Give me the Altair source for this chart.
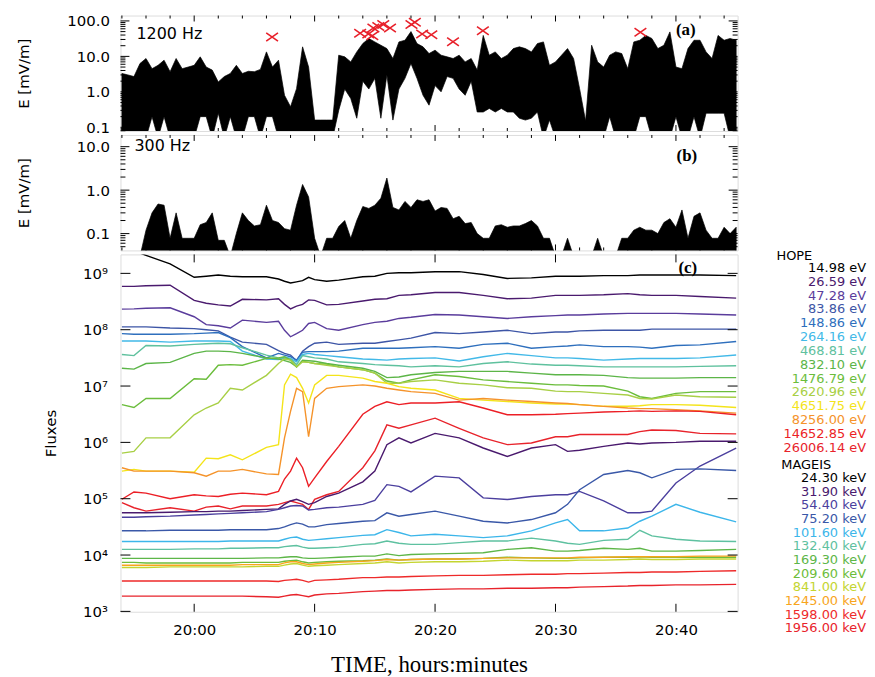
import altair as alt
import pandas as pd

# ---------------- Panels (a) and (b): wave electric field, envelope every 0.5 min ----------------
# time in minutes after 20:00
T_E = [round(-6 + 0.5 * i, 1) for i in range(103)]

E1200_HI = [
    3.3, 3.0, 2.7, 6.3, 8.7, 4.5, 5.6, 7.8, 3.7, 8.7,
    4.5, 5.0, 5.6, 9.7, 5.0, 4.1, 1.9, 2.7, 3.3, 5.6,
    3.3, 3.8, 3.7, 4.3, 13.4, 5.0, 7.8, 0.8, 0.38, 1.23,
    18.6, 5.0, 0.16, 0.16, 0.16, 0.16, 10.8, 9.7, 7.0, 13.4,
    23, 32, 25.6, 20.6, 16.6, 8.7, 25.6, 28.5, 50, 23,
    18.6, 12, 15, 10.8, 9.7, 8.7, 10.8, 7.0, 8.7, 4.1,
    39, 10.8, 13.4, 8.7, 10.8, 16.6, 18.6, 16.6, 13.4, 23,
    25.6, 5.6, 7.0, 10.8, 16.6, 8.7, 1.23, 0.15, 20.6, 7.0,
    5.0, 10.8, 13.4, 12, 4.5, 25.6, 28.5, 39, 32, 16.6,
    20.6, 49, 5.0, 4.5, 16.6, 28.5, 28.5, 13.4, 8.7, 39,
    28.5, 32, 28.5,
]
E1200_LO = [
    0.05, 0.05, 0.05, 0.05, 0.05, 0.2, 0.05, 0.2, 0.05, 0.05,
    0.05, 0.05, 0.05, 0.2, 0.2, 0.05, 0.25, 0.05, 0.2, 0.05,
    0.05, 0.2, 0.2, 0.05, 0.2, 0.2, 0.05, 0.05, 0.05, 0.05,
    0.05, 0.05, 0.05, 0.05, 0.05, 0.05, 0.3, 1.2, 0.65, 0.18,
    2.0, 1.2, 2.4, 0.18, 3.0, 0.16, 1.2, 2.4, 6.3, 2.4,
    0.8, 0.42, 1.5, 1.0, 2.7, 2.4, 1.2, 0.8, 2.0, 0.27,
    0.27, 0.34, 0.27, 0.34, 0.27, 0.27, 0.18, 0.16, 0.18, 0.27,
    0.05, 0.16, 0.05, 0.05, 0.05, 0.05, 0.05, 0.05, 0.05, 0.05,
    0.05, 0.2, 0.05, 0.05, 0.05, 0.05, 0.2, 0.2, 0.05, 0.05,
    0.05, 0.05, 0.2, 0.05, 0.05, 0.2, 0.05, 0.25, 0.25, 0.25,
    0.25, 0.05, 0.05,
]
E300_HI = [
    0.03, 0.03, 0.03, 0.03, 0.12, 0.3, 0.48, 0.45, 0.078, 0.3,
    0.078, 0.078, 0.078, 0.16, 0.18, 0.3, 0.07, 0.07, 0.03, 0.1,
    0.3, 0.2, 0.15, 0.16, 0.45, 0.2, 0.18, 0.13, 0.12, 0.45,
    1.35, 0.7, 0.078, 0.03, 0.078, 0.078, 0.145, 0.2, 0.078, 0.2,
    0.42, 0.38, 0.45, 0.65, 1.9, 0.4, 0.35, 0.55, 0.4, 0.6,
    0.55, 0.6, 0.33, 0.4, 0.38, 0.22, 0.25, 0.17, 0.18, 0.1,
    0.078, 0.078, 0.15, 0.16, 0.14, 0.15, 0.15, 0.17, 0.2, 0.15,
    0.078, 0.078, 0.03, 0.03, 0.078, 0.03, 0.03, 0.03, 0.03, 0.078,
    0.03, 0.03, 0.03, 0.078, 0.078, 0.12, 0.14, 0.12, 0.12, 0.1,
    0.18, 0.22, 0.14, 0.35, 0.078, 0.25, 0.3, 0.12, 0.078, 0.078,
    0.14, 0.1, 0.14,
]
# red crosses in panel (a)
BURST_T = [6.47, 13.78, 14.46, 14.79, 14.88, 15.29, 15.7, 16.26, 18.04, 18.32, 18.93, 19.69, 21.49, 23.97, 37.05]
BURST_E = [35, 45, 43, 38, 63, 70, 79, 63, 79, 92, 43, 41, 26, 53, 48]

# ---------------- Panel (c): fluxes (log10 of flux), sampled at these minutes after 20:00 ----------------
T_FLUX = [-6, -5, -4, -2, 0, 1, 2, 3, 4, 6, 7, 7.5, 8, 8.5, 9, 9.5, 10, 11, 12, 14, 15, 16, 17, 18,
          20, 22, 24, 26, 28, 30, 31, 32, 34, 36, 37, 38, 40, 42, 45]

HOPE_14_98 = [9.45, 9.40, 9.32, 9.17, 8.93, 8.95, 8.97, 8.95, 8.94, 8.94, 8.90, 8.86, 8.83, 8.85, 8.87, 8.93, 8.89, 8.86, 8.88,
              8.94, 8.95, 9.00, 9.01, 9.01, 9.03, 9.03, 8.98, 8.91, 8.92, 8.95, 8.95, 8.95, 8.96, 8.96, 8.97, 8.97, 8.97, 8.97, 8.96]
HOPE_26_59 = [8.77, 8.77, 8.78, 8.79, 8.52, 8.47, 8.44, 8.42, 8.54, 8.53, 8.55, 8.45, 8.37, 8.42, 8.45, 8.53, 8.52, 8.44, 8.45,
              8.51, 8.54, 8.55, 8.61, 8.62, 8.66, 8.66, 8.61, 8.55, 8.56, 8.61, 8.61, 8.61, 8.62, 8.64, 8.62, 8.61, 8.61, 8.59, 8.56]
HOPE_47_28 = [8.365, 8.37, 8.38, 8.39, 8.23, 8.09, 8.07, 8.03, 8.17, 8.13, 8.15, 7.99, 7.875, 7.93, 7.99, 8.11, 8.13, 8.02, 7.99,
              8.09, 8.13, 8.15, 8.20, 8.22, 8.27, 8.26, 8.23, 8.20, 8.23, 8.25, 8.26, 8.26, 8.28, 8.29, 8.29, 8.29, 8.29, 8.28, 8.26]
HOPE_83_86 = [8.05, 8.05, 8.05, 8.03, 8.02, 8.00, 7.98, 7.87, 7.78, 7.74, 7.63, 7.58, 7.55, 7.45, 7.62, 7.70, 7.76, 7.78, 7.74,
              7.76, 7.76, 7.79, 7.82, 7.85, 7.95, 7.93, 7.96, 7.99, 7.93, 7.96, 7.96, 7.98, 7.99, 7.99, 7.99, 8.01, 8.01, 8.01, 8.01]
HOPE_148_86 = [7.93, 7.92, 7.92, 7.92, 7.93, 7.94, 7.95, 7.86, 7.70, 7.50, 7.58, 7.55, 7.52, 7.46, 7.60, 7.61, 7.61, 7.61, 7.62,
               7.67, 7.67, 7.67, 7.67, 7.68, 7.70, 7.67, 7.74, 7.76, 7.67, 7.70, 7.71, 7.73, 7.70, 7.70, 7.69, 7.67, 7.72, 7.73, 7.79]
HOPE_264_16 = [7.80, 7.80, 7.80, 7.78, 7.80, 7.80, 7.80, 7.79, 7.62, 7.48, 7.47, 7.52, 7.49, 7.43, 7.56, 7.58, 7.56, 7.54, 7.52,
               7.48, 7.47, 7.46, 7.48, 7.49, 7.50, 7.445, 7.52, 7.58, 7.54, 7.50, 7.50, 7.49, 7.46, 7.48, 7.49, 7.49, 7.49, 7.50, 7.55]
HOPE_468_81 = [7.56, 7.54, 7.72, 7.71, 7.74, 7.75, 7.76, 7.75, 7.68, 7.55, 7.50, 7.49, 7.48, 7.38, 7.54, 7.52, 7.50, 7.48, 7.43,
               7.40, 7.38, 7.37, 7.36, 7.34, 7.36, 7.34, 7.40, 7.43, 7.39, 7.37, 7.37, 7.36, 7.34, 7.34, 7.34, 7.34, 7.34, 7.35, 7.36]
HOPE_832_10 = [7.315, 7.30, 7.40, 7.42, 7.58, 7.62, 7.62, 7.61, 7.58, 7.50, 7.48, 7.45, 7.42, 7.34, 7.46, 7.45, 7.44, 7.40, 7.37,
               7.315, 7.26, 7.15, 7.16, 7.20, 7.24, 7.26, 7.26, 7.26, 7.23, 7.20, 7.20, 7.20, 7.19, 7.15, 7.14, 7.14, 7.14, 7.15, 7.15]
HOPE_1476_79 = [6.67, 6.62, 6.78, 6.78, 7.13, 7.12, 7.37, 7.38, 7.37, 7.49, 7.50, 7.52, 7.46, 7.34, 7.44, 7.42, 7.40, 7.39, 7.34,
                7.29, 7.23, 7.09, 7.05, 7.11, 7.20, 7.17, 7.11, 7.08, 7.05, 7.02, 7.02, 7.01, 7.00, 6.91, 6.81, 6.78, 6.87, 6.90, 6.90]
HOPE_2620_96 = [5.81, 5.84, 6.08, 6.08, 6.49, 6.61, 6.70, 6.96, 6.93, 7.19, 7.40, 7.48, 7.46, 7.34, 7.43, 7.42, 7.40, 7.37, 7.34,
                7.29, 7.23, 7.05, 7.05, 7.08, 7.11, 7.05, 7.02, 6.97, 6.96, 6.91, 6.90, 6.90, 6.87, 6.84, 6.78, 6.77, 6.84, 6.81, 6.80]
HOPE_4651_75 = [5.49, 5.52, 5.49, 5.49, 5.47, 5.72, 5.71, 5.78, 5.69, 5.91, 5.96, 7.02, 7.21, 7.15, 6.96, 6.70, 7.02, 7.19, 7.19,
                7.14, 7.08, 7.05, 6.99, 6.96, 6.93, 6.78, 6.75, 6.725, 6.70, 6.68, 6.68, 6.67, 6.64, 6.64, 6.65, 6.67, 6.67, 6.66, 6.62]
HOPE_8256_00 = [5.55, 5.49, 5.49, 5.49, 5.46, 5.40, 5.49, 5.49, 5.52, 5.44, 5.43, 6.08, 6.55, 6.96, 6.90, 6.10, 6.78, 6.96, 6.99,
                7.02, 7.00, 6.96, 6.93, 6.90, 6.87, 6.75, 6.78, 6.75, 6.725, 6.70, 6.69, 6.67, 6.64, 6.61, 6.60, 6.60, 6.58, 6.56, 6.52]
HOPE_14652_85 = [4.99, 5.12, 5.10, 5.00, 5.07, 5.05, 5.04, 5.08, 5.10, 5.07, 5.13, 5.35, 5.49, 5.72, 5.55, 5.22, 5.37, 5.66, 5.93,
                 6.50, 6.64, 6.72, 6.67, 6.70, 6.70, 6.72, 6.61, 6.49, 6.49, 6.50, 6.51, 6.52, 6.54, 6.55, 6.56, 6.55, 6.56, 6.55, 6.49]
HOPE_26006_14 = [4.93, 4.84, 4.78, 4.84, 4.78, 4.85, 4.87, 4.82, 4.87, 4.87, 4.90, 4.93, 4.96, 4.93, 4.90, 4.81, 4.99, 5.07, 5.13,
                 5.55, 5.85, 6.31, 6.25, 6.31, 6.43, 6.25, 6.08, 5.96, 5.99, 6.10, 6.10, 6.14, 6.14, 6.14, 6.19, 6.22, 6.21, 6.16, 6.15]

MAGEIS_31_90 = [4.75, 4.75, 4.75, 4.76, 4.77, 4.77, 4.78, 4.78, 4.79, 4.81, 4.82, 4.90, 4.96, 4.99, 4.95, 4.90, 4.93, 5.04, 5.10,
                5.30, 5.49, 5.96, 6.08, 5.99, 6.16, 6.08, 5.90, 5.75, 5.90, 5.96, 5.84, 5.86, 5.93, 5.99, 5.97, 5.99, 6.00, 6.02, 6.02]
MAGEIS_54_40 = [4.67, 4.67, 4.68, 4.69, 4.71, 4.72, 4.73, 4.74, 4.75, 4.77, 4.81, 4.84, 4.87, 4.88, 4.87, 4.80, 4.81, 4.84, 4.85,
                4.90, 4.97, 5.25, 5.22, 5.12, 5.40, 5.37, 5.015, 4.985, 5.04, 5.07, 5.07, 5.13, 4.96, 4.75, 4.75, 4.78, 5.28, 5.58, 5.90]
MAGEIS_75_20 = [4.43, 4.43, 4.43, 4.44, 4.44, 4.44, 4.44, 4.45, 4.45, 4.45, 4.47, 4.50, 4.54, 4.57, 4.55, 4.50, 4.50, 4.54, 4.56,
                4.60, 4.61, 4.75, 4.69, 4.72, 4.78, 4.69, 4.60, 4.57, 4.63, 4.75, 4.90, 5.16, 5.43, 5.50, 5.46, 5.37, 5.52, 5.53, 5.50]
MAGEIS_101_60 = [4.24, 4.24, 4.24, 4.24, 4.24, 4.24, 4.24, 4.25, 4.25, 4.25, 4.25, 4.28, 4.31, 4.32, 4.28, 4.26, 4.27, 4.29, 4.31,
                 4.35, 4.36, 4.45, 4.40, 4.34, 4.37, 4.34, 4.31, 4.34, 4.43, 4.57, 4.63, 4.43, 4.43, 4.48, 4.60, 4.69, 4.90, 4.76, 4.59]
MAGEIS_132_40 = [4.10, 4.10, 4.10, 4.10, 4.11, 4.11, 4.11, 4.12, 4.12, 4.13, 4.13, 4.15, 4.16, 4.17, 4.14, 4.12, 4.12, 4.13, 4.14,
                 4.19, 4.20, 4.25, 4.21, 4.19, 4.19, 4.22, 4.25, 4.25, 4.30, 4.25, 4.21, 4.19, 4.26, 4.28, 4.44, 4.34, 4.28, 4.25, 4.24]
MAGEIS_169_30 = [3.94, 3.94, 3.94, 3.94, 3.94, 3.94, 3.94, 3.94, 3.94, 3.95, 3.95, 3.96, 3.97, 3.97, 3.95, 3.94, 3.94, 3.95, 3.96,
                 3.98, 3.98, 4.02, 3.99, 4.01, 4.02, 4.03, 4.04, 4.10, 4.13, 4.07, 4.07, 4.08, 4.12, 4.10, 4.12, 4.07, 4.07, 4.08, 4.10]
MAGEIS_209_60 = [3.87, 3.87, 3.86, 3.86, 3.86, 3.86, 3.86, 3.86, 3.87, 3.87, 3.87, 3.89, 3.90, 3.91, 3.88, 3.86, 3.87, 3.88, 3.89,
                 3.90, 3.91, 3.93, 3.91, 3.92, 3.93, 3.93, 3.94, 3.96, 3.95, 3.94, 3.94, 3.95, 3.96, 3.96, 3.97, 3.96, 3.96, 3.96, 3.96]
MAGEIS_841_00 = [3.78, 3.78, 3.78, 3.79, 3.79, 3.79, 3.79, 3.79, 3.79, 3.80, 3.80, 3.82, 3.84, 3.85, 3.82, 3.80, 3.81, 3.82, 3.83,
                 3.85, 3.86, 3.88, 3.86, 3.87, 3.88, 3.88, 3.89, 3.91, 3.90, 3.90, 3.90, 3.91, 3.91, 3.92, 3.93, 3.92, 3.92, 3.93, 3.93]
MAGEIS_1245_00 = [3.82, 3.82, 3.82, 3.82, 3.82, 3.82, 3.82, 3.82, 3.83, 3.83, 3.83, 3.86, 3.88, 3.88, 3.85, 3.83, 3.84, 3.86, 3.87,
                  3.89, 3.90, 3.92, 3.91, 3.92, 3.93, 3.93, 3.94, 3.95, 3.95, 3.95, 3.95, 3.96, 3.96, 3.97, 3.97, 3.97, 3.97, 3.98, 3.98]
MAGEIS_1598_00 = [3.54, 3.54, 3.54, 3.54, 3.54, 3.54, 3.54, 3.54, 3.54, 3.54, 3.53, 3.55, 3.56, 3.57, 3.55, 3.52, 3.55, 3.56, 3.57,
                  3.60, 3.60, 3.61, 3.61, 3.62, 3.63, 3.64, 3.64, 3.65, 3.66, 3.66, 3.67, 3.67, 3.68, 3.69, 3.69, 3.70, 3.70, 3.71, 3.72]
MAGEIS_1956_00 = [3.27, 3.27, 3.27, 3.27, 3.27, 3.27, 3.27, 3.27, 3.27, 3.26, 3.25, 3.27, 3.29, 3.30, 3.28, 3.26, 3.29, 3.31, 3.32,
                  3.35, 3.36, 3.37, 3.37, 3.38, 3.39, 3.40, 3.40, 3.41, 3.41, 3.42, 3.42, 3.43, 3.44, 3.45, 3.46, 3.46, 3.47, 3.47, 3.48]

HOPE_LABELS = ["14.98", "26.59", "47.28", "83.86", "148.86", "264.16", "468.81", "832.10",
               "1476.79", "2620.96", "4651.75", "8256.00", "14652.85", "26006.14"]
HOPE_COLORS = ["#000000", "#4a1a6e", "#5a3c9c", "#3d55a6", "#2e6fbd", "#42b9e8", "#5fc19e", "#5cb548",
               "#6bbd3c", "#a8cf45", "#f4e41a", "#f5932a", "#ec1f26", "#e8232b"]
HOPE_DATA = [HOPE_14_98, HOPE_26_59, HOPE_47_28, HOPE_83_86, HOPE_148_86, HOPE_264_16, HOPE_468_81, HOPE_832_10,
             HOPE_1476_79, HOPE_2620_96, HOPE_4651_75, HOPE_8256_00, HOPE_14652_85, HOPE_26006_14]

MAGEIS_LABELS = ["24.30", "31.90", "54.40", "75.20", "101.60", "132.40", "169.30", "209.60",
                 "841.00", "1245.00", "1598.00", "1956.00"]
MAGEIS_COLORS = ["#000000", "#4a1a6e", "#4b3f9e", "#3a58a8", "#3cb6ea", "#5ec1a0", "#5db648", "#6dbd3a",
                 "#c4d530", "#f8a51c", "#ee2a2a", "#e8232b"]
MAGEIS_DATA = [None, MAGEIS_31_90, MAGEIS_54_40, MAGEIS_75_20, MAGEIS_101_60, MAGEIS_132_40, MAGEIS_169_30,
               MAGEIS_209_60, MAGEIS_841_00, MAGEIS_1245_00, MAGEIS_1598_00, MAGEIS_1956_00]

# ---------------- build tables ----------------
rows = []
for lab, col, arr in zip(HOPE_LABELS, HOPE_COLORS, HOPE_DATA):
    for t, v in zip(T_FLUX, arr):
        rows.append({"t": t, "series": "HOPE " + lab, "col": col, "flux": 10 ** v})
for lab, col, arr in zip(MAGEIS_LABELS, MAGEIS_COLORS, MAGEIS_DATA):
    if arr is None:
        continue
    for t, v in zip(T_FLUX, arr):
        rows.append({"t": t, "series": "MAGEIS " + lab, "col": col, "flux": 10 ** v})
df_flux = pd.DataFrame(rows)

df_a = pd.DataFrame({"t": T_E, "hi": E1200_HI, "lo": E1200_LO})
df_b = pd.DataFrame({"t": T_E, "hi": E300_HI})
df_x = pd.DataFrame({"t": BURST_T, "e": BURST_E})

leg_rows = []
for i, (lab, col) in enumerate(zip(HOPE_LABELS, HOPE_COLORS)):
    leg_rows.append({"txt": lab + " eV", "col": col, "py": 13.5 + 13.9 * i})
for i, (lab, col) in enumerate(zip(MAGEIS_LABELS, MAGEIS_COLORS)):
    leg_rows.append({"txt": lab + " keV", "col": col, "py": 224.5 + 13.75 * i})
df_leg = pd.DataFrame(leg_rows)
df_head = pd.DataFrame({"txt": ["HOPE", "MAGEIS"], "px": [677, 689], "py": [1.5, 211.5]})

# ---------------- layout constants ----------------
W, HA, HB, HC = 620, 116, 116, 359
XS = alt.Scale(domain=[-6.12, 45.12], nice=False, zero=False)
YA = alt.Scale(type="log", domain=[0.0787, 142], nice=False)
YB = alt.Scale(type="log", domain=[0.041, 18.6], nice=False)
YC = alt.Scale(type="log", domain=[985, 2.17e9], nice=False)
FONT = "DejaVu Sans"

MAJOR_X = [0, 10, 20, 30, 40]
MINOR_X = [m for m in range(-6, 45, 2) if m % 10 != 0]
DECADES_C = [10.0 ** k for k in range(3, 10)]


def minor_log(lo, hi):
    return [k * 10.0 ** e for e in range(-3, 10) for k in range(2, 10) if lo < k * 10.0 ** e < hi]


def yaxis(values, title, H, titleX, labelPadding, fmt=None, labelExpr=None, size=15):
    kw = dict(values=values, title=title, ticks=False, tickSize=0, domain=False, grid=False,
              labelFont=FONT, labelFontSize=size, labelColor="black", labelPadding=labelPadding,
              titleFont=FONT, titleFontSize=15, titleFontWeight="normal", titleColor="black",
              titleX=titleX, titleY=H / 2, titleAngle=270, titleBaseline="middle", titleAlign="center",
              labelOverlap=False)
    if fmt:
        kw["format"] = fmt
    if labelExpr:
        kw["labelExpr"] = labelExpr
    return alt.Axis(**kw)


AX_A = yaxis([0.1, 1, 10, 100], "E [mV/m]", HA, -97, 11, fmt=".1f")
AX_B = yaxis([0.1, 1, 10], "E [mV/m]", HB, -97, 11, fmt=".1f")
sup = "['⁰','¹','²','³','⁴','⁵','⁶','⁷','⁸','⁹'][round(log(datum.value) / LN10)]"
AX_C = yaxis(DECADES_C, "Fluxes", HC, -70, 13, labelExpr="'10' + " + sup)
AX_CX = alt.Axis(
    values=MAJOR_X, labelExpr="'20:' + (datum.value < 10 ? '0' + datum.value : datum.value)",
    ticks=False, tickSize=0, domain=False, grid=False, labelFont=FONT, labelFontSize=15,
    labelColor="black", labelPadding=11, labelFlush=False,
    title="TIME, hours:minutes", titleFont="Liberation Serif", titleFontSize=23,
    titleFontWeight="normal", titleColor="black", titleX=W / 2, titleY=60,
    titleBaseline="alphabetic", titleAlign="center")


def tick_layers(H, xaxis, xmaj, xmin, ys, yax, ymaj, ymin, Lxmaj, Lxmin, Lymaj, Lymin):
    out = []
    for vals, L in ((xmaj, Lxmaj), (xmin, Lxmin)):
        if not vals:
            continue
        b = alt.Chart(pd.DataFrame({"t": vals})).mark_rule(color="black", strokeWidth=1)
        out.append(b.encode(x=alt.X("t:Q", scale=XS, axis=xaxis), y=alt.value(0), y2=alt.value(L)))
        out.append(b.encode(x=alt.X("t:Q", scale=XS, axis=xaxis), y=alt.value(H), y2=alt.value(H - L)))
    for vals, L in ((ymaj, Lymaj), (ymin, Lymin)):
        if not vals:
            continue
        b = alt.Chart(pd.DataFrame({"v": vals})).mark_rule(color="black", strokeWidth=1)
        out.append(b.encode(y=alt.Y("v:Q", scale=ys, axis=yax), x=alt.value(0), x2=alt.value(L)))
        out.append(b.encode(y=alt.Y("v:Q", scale=ys, axis=yax), x=alt.value(W), x2=alt.value(W - L)))
    return out


def label(text, x, y, size=15, font=FONT, weight="normal", align="left"):
    return alt.Chart(pd.DataFrame({"s": [text]})).mark_text(
        align=align, baseline="middle", font=font, fontSize=size, fontWeight=weight, color="black"
    ).encode(x=alt.value(x), y=alt.value(y), text="s:N")


XPATH = "M-1,-0.7L1,0.7M-1,0.7L1,-0.7"

# ---------------- panel (a) ----------------
area_a = alt.Chart(df_a).mark_area(color="black", clip=True, interpolate="linear",
                                   stroke="black", strokeWidth=0.7).encode(
    x=alt.X("t:Q", scale=XS, axis=None),
    y=alt.Y("hi:Q", scale=YA, axis=AX_A),
    y2="lo:Q",
)
cross_a = alt.Chart(df_x).mark_point(shape=XPATH, filled=False, color="#e8202a", size=140,
                                     strokeWidth=1.6, opacity=1).encode(
    x=alt.X("t:Q", scale=XS, axis=None),
    y=alt.Y("e:Q", scale=YA, axis=AX_A),
)
pa = alt.layer(
    area_a, cross_a,
    *tick_layers(HA, None, MAJOR_X, MINOR_X, YA, AX_A, [0.1, 1, 10, 100], minor_log(0.0787, 142), 6, 3, 9, 5),
    label("1200 Hz", 16, 19, size=16),
    label("(a)", 568, 15, size=17, font="Liberation Serif", weight="bold", align="center"),
).properties(width=W, height=HA)

# ---------------- panel (b) ----------------
area_b = alt.Chart(df_b).transform_calculate(floor="0.02").mark_area(
    color="black", clip=True, interpolate="linear", stroke="black", strokeWidth=0.7).encode(
    x=alt.X("t:Q", scale=XS, axis=None),
    y=alt.Y("hi:Q", scale=YB, axis=AX_B),
    y2="floor:Q",
)
pb = alt.layer(
    area_b,
    *tick_layers(HB, None, MAJOR_X, MINOR_X, YB, AX_B, [0.1, 1, 10], minor_log(0.041, 18.6), 6, 3, 9, 5),
    label("300 Hz", 14, 11, size=16),
    label("(b)", 569, 21, size=17, font="Liberation Serif", weight="bold", align="center"),
).properties(width=W, height=HB)

# ---------------- panel (c) ----------------
lines_c = alt.Chart(df_flux).mark_line(strokeWidth=1.4, clip=True).encode(
    x=alt.X("t:Q", scale=XS, axis=AX_CX),
    y=alt.Y("flux:Q", scale=YC, axis=AX_C),
    color=alt.Color("col:N", scale=None),
    detail="series:N",
)
leg_c = alt.Chart(df_leg).mark_text(align="right", baseline="middle", font=FONT, fontSize=13).encode(
    x=alt.value(749),
    y=alt.Y("py:Q", scale=None),
    text="txt:N",
    color=alt.Color("col:N", scale=None),
)
head_c = alt.Chart(df_head).mark_text(align="center", baseline="middle", font=FONT, fontSize=13,
                                      color="black").encode(
    x=alt.X("px:Q", scale=None),
    y=alt.Y("py:Q", scale=None),
    text="txt:N",
)
pc = alt.layer(
    lines_c,
    *tick_layers(HC, AX_CX, MAJOR_X, [], YC, AX_C, DECADES_C, [], 8, 0, 10, 0),
    label("(c)", 570, 14, size=17, font="Liberation Serif", weight="bold", align="center"),
    leg_c, head_c,
).properties(width=W, height=HC)

chart = alt.vconcat(pa, pb, pc, spacing=4, bounds="flush").properties(
    padding={"left": 8, "top": 3, "right": 0, "bottom": 0}
).configure_view(stroke="black", strokeWidth=1).configure(font=FONT)

chart.save("out.html", embed_options={"renderer": "svg", "actions": False})
